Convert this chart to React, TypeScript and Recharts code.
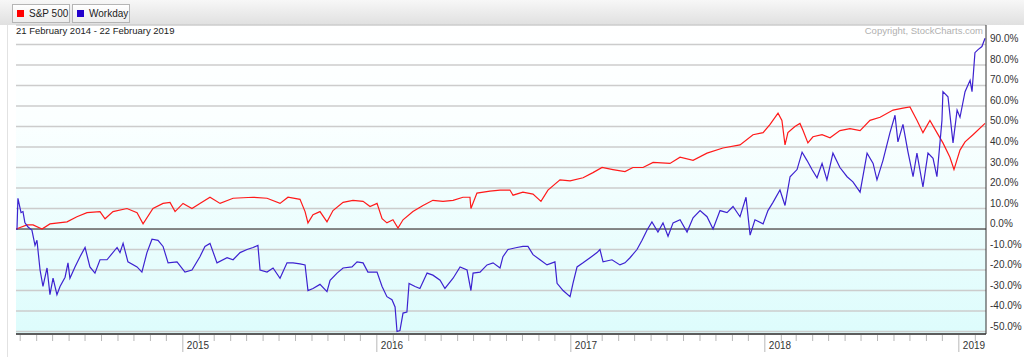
import React from "react";
import {
  LineChart,
  Line,
  XAxis,
  YAxis,
  CartesianGrid,
  ReferenceLine,
} from "recharts";

// decimal years (21 Feb 2014 .. 22 Feb 2019), % change since start
const spDates = [
  2014.14, 2014.197, 2014.228, 2014.274, 2014.315, 2014.403, 2014.454, 2014.506, 2014.573, 2014.599,
  2014.64, 2014.712, 2014.764, 2014.795, 2014.846, 2014.898, 2014.934, 2014.96, 2015.001, 2015.047,
  2015.088, 2015.14, 2015.192, 2015.259, 2015.362, 2015.434, 2015.501, 2015.542, 2015.604, 2015.63,
  2015.645, 2015.671, 2015.707, 2015.743, 2015.774, 2015.826, 2015.877, 2015.929, 2015.965, 2016.001,
  2016.027, 2016.052, 2016.083, 2016.109, 2016.135, 2016.186, 2016.238, 2016.289, 2016.341, 2016.393,
  2016.444, 2016.48, 2016.485, 2016.516, 2016.583, 2016.635, 2016.686, 2016.702, 2016.753, 2016.805,
  2016.846, 2016.882, 2016.944, 2016.996, 2017.063, 2017.114, 2017.161, 2017.217, 2017.279, 2017.32,
  2017.372, 2017.424, 2017.511, 2017.563, 2017.63, 2017.702, 2017.784, 2017.872, 2017.939, 2017.991,
  2018.027, 2018.068, 2018.088, 2018.104, 2018.119, 2018.155, 2018.181, 2018.197, 2018.222, 2018.248,
  2018.295, 2018.336, 2018.387, 2018.439, 2018.491, 2018.542, 2018.594, 2018.661, 2018.712, 2018.748,
  2018.784, 2018.815, 2018.851, 2018.887, 2018.918, 2018.954, 2018.975, 2019.006, 2019.032, 2019.073,
  2019.135,
];
const spValues = [
  0, 2, 2, 0, 2.5, 3.5, 6, 8, 8.5, 5,
  8.5, 10, 8, 2.5, 10, 12.5, 13, 8.5, 12.5, 10,
  12.5, 15.5, 12.5, 15, 15.5, 15, 12.5, 15.5, 14.5, 8.5,
  3, 7, 8.5, 3.5, 9, 13, 14, 13.5, 11, 12.5,
  5, 3, 4.5, 0.5, 4.5, 8.5, 11.5, 14, 13.5, 14,
  15.5, 15.5, 10, 17.5, 18.5, 19, 19, 16.5, 18, 17,
  13.5, 19, 24, 23.5, 25, 27.5, 30, 29, 28, 30,
  30, 32.5, 32, 35, 33.5, 37, 39.5, 41, 46, 47,
  51, 56.5, 53, 41, 47, 50, 51.5, 48, 42, 45,
  46, 44.5, 48, 49, 48, 53, 54.5, 58, 59, 59.5,
  53, 47, 53, 47, 42, 35, 29, 38.5, 42.5, 46,
  51.5,
];

const wdayDates = [
  2014.145, 2014.15, 2014.166, 2014.176, 2014.186, 2014.202, 2014.222, 2014.238, 2014.248, 2014.264,
  2014.279, 2014.3, 2014.315, 2014.331, 2014.351, 2014.367, 2014.393, 2014.408, 2014.418, 2014.444,
  2014.47, 2014.496, 2014.521, 2014.547, 2014.573, 2014.609, 2014.661, 2014.676, 2014.692, 2014.717,
  2014.764, 2014.789, 2014.815, 2014.841, 2014.872, 2014.898, 2014.924, 2014.97, 2015.011, 2015.047,
  2015.088, 2015.114, 2015.14, 2015.176, 2015.228, 2015.259, 2015.295, 2015.331, 2015.362, 2015.387,
  2015.398, 2015.434, 2015.465, 2015.501, 2015.537, 2015.568, 2015.604, 2015.63, 2015.645, 2015.671,
  2015.707, 2015.743, 2015.759, 2015.795, 2015.826, 2015.872, 2015.898, 2015.929, 2015.954, 2016.001,
  2016.027, 2016.052, 2016.078, 2016.094, 2016.104, 2016.119, 2016.135, 2016.155, 2016.166, 2016.197,
  2016.222, 2016.259, 2016.289, 2016.326, 2016.351, 2016.393, 2016.429, 2016.465, 2016.485, 2016.496,
  2016.532, 2016.568, 2016.599, 2016.635, 2016.65, 2016.676, 2016.722, 2016.753, 2016.779, 2016.805,
  2016.841, 2016.877, 2016.918, 2016.929, 2016.96, 2016.996, 2017.011, 2017.032, 2017.063, 2017.099,
  2017.135, 2017.15, 2017.166, 2017.212, 2017.253, 2017.279, 2017.305, 2017.341, 2017.367, 2017.393,
  2017.418, 2017.449, 2017.475, 2017.501, 2017.527, 2017.563, 2017.599, 2017.63, 2017.666, 2017.702,
  2017.733, 2017.769, 2017.805, 2017.836, 2017.872, 2017.903, 2017.924, 2017.949, 2017.991, 2018.016,
  2018.042, 2018.078, 2018.104, 2018.13, 2018.166, 2018.192, 2018.217, 2018.243, 2018.269, 2018.295,
  2018.32, 2018.351, 2018.387, 2018.424, 2018.454, 2018.491, 2018.527, 2018.558, 2018.578, 2018.609,
  2018.645, 2018.671, 2018.686, 2018.712, 2018.738, 2018.764, 2018.784, 2018.815, 2018.841, 2018.867,
  2018.887, 2018.913, 2018.918, 2018.944, 2018.97, 2018.991, 2019.006, 2019.032, 2019.058, 2019.068,
  2019.083, 2019.099, 2019.119, 2019.135,
];
const wdayValues = [
  -0.5, 15, 8, 8.5, 3, 1, -0.5, -8, -5.5, -20,
  -28, -19, -32, -24, -32, -28, -23.5, -16.5, -24, -18.5,
  -13.5, -9, -18.5, -21.5, -15, -15, -9, -11.5, -7, -16,
  -18.5, -21, -11.5, -5, -5.5, -8.5, -16.5, -16, -21, -20,
  -13.5, -8.5, -7, -16.5, -14, -15, -11.5, -10, -9, -8,
  -20, -21, -19, -24, -16.5, -16.5, -17, -17.5, -30, -29,
  -27, -30.5, -25, -21.5, -19, -18.5, -16, -16.5, -21, -21,
  -28, -33, -34.5, -38, -50, -49.5, -41, -40.5, -26.5, -28,
  -29, -21.5, -22.5, -25, -29, -24, -18.5, -20, -30, -21.5,
  -21, -17.5, -16.5, -19, -13.5, -10, -9, -8.5, -8.5, -12.5,
  -15, -17.5, -16, -26.5, -30, -33, -26.5, -18.5, -16.5, -14,
  -11.5, -10, -16, -15, -17.5, -16.5, -14, -10, -5.5, -0.5,
  3.5, -1.5, 3, -3.5, 3, 4.5, -1.5, 5.5, 9, 6,
  0, 9, 8, 11, 6, 15.5, -3, 4.5, 2.5, 9,
  13, 19, 11.5, 25.5, 29, 37.5, 33.5, 29, 25, 32,
  24, 37, 30, 25.5, 23, 18, 37, 32, 24, 33.5,
  47, 55.5, 42.5, 51, 37.5, 25.5, 37, 20.5, 37, 34.5,
  25.5, 53, 67, 64.5, 42, 58, 54.5, 67, 72.5, 67,
  86, 87.5, 89, 93,
];

const yTicks = [-50, -40, -30, -20, -10, 0, 10, 20, 30, 40, 50, 60, 70, 80, 90];
const legendItems = [
  { name: "S&P 500", color: "#ff0000" },
  { name: "Workday", color: "#2200cc" },
];
const dateRange = "21 February 2014 - 22 February 2019";
const copyright = "Copyright, StockCharts.com";

const X_START = 2014.14;
const X_END = 2019.14;
const FONT = "'Liberation Sans', Arial, sans-serif";

const toDecimalYear = (y: number, m: number, d: number) =>
  y + (Date.UTC(y, m, d) - Date.UTC(y, 0, 1)) / (365 * 86400000);

const monthTicks: number[] = [];
for (let y = 2014; y <= 2019; y++) {
  for (let m = 0; m < 12; m++) {
    const t = toDecimalYear(y, m, 1);
    if (t > X_START && t < X_END) monthTicks.push(t);
  }
}

const spData = spDates.map((t, i) => ({ t, v: spValues[i] }));
const wdayData = wdayDates.map((t, i) => ({ t, v: wdayValues[i] }));

const XTick = (props: any) => {
  const { x, y, payload } = props;
  const v = payload.value;
  const isYear = Math.abs(v - Math.round(v)) < 0.002;
  return (
    <g>
      <line x1={x} x2={x} y1={y + 1} y2={y + (isYear ? 18 : 7)} stroke="#b8b8b8" />
      {isYear && (
        <text x={x + 4} y={y + 15} fontSize={10} fill="#333" fontFamily={FONT}>
          {Math.round(v)}
        </text>
      )}
    </g>
  );
};

const YTick = (props: any) => {
  const { x, y, payload } = props;
  return (
    <text x={x + 4} y={y - 2} fontSize={10} fill="#333" fontFamily={FONT}>
      {payload.value.toFixed(1) + "%"}
    </text>
  );
};

const App = () => {
  return (
    <div style={{ position: "absolute", left: 0, top: 0, width: 1024, height: 357, background: "#fff" }}>
      {/* header band with legend */}
      <div
        style={{
          position: "absolute",
          left: 0,
          top: 0,
          width: 1024,
          height: 25,
          background: "linear-gradient(#f7f7f7, #e0e0e0)",
        }}
      />
      {legendItems.map((item, i) => (
        <div
          key={item.name}
          style={{
            position: "absolute",
            left: i === 0 ? 12 : 72,
            top: 4,
            width: 56,
            height: 17,
            border: "1px solid #b5b5b5",
            background: "linear-gradient(#ffffff, #ececec)",
            fontFamily: FONT,
            fontSize: 10,
            color: "#222",
            whiteSpace: "nowrap",
          }}
        >
          <span
            style={{
              position: "absolute",
              left: 4,
              top: 5,
              width: 7,
              height: 7,
              background: item.color,
            }}
          />
          <span style={{ position: "absolute", left: 16, top: 3 }}>{item.name}</span>
        </div>
      ))}
      <div style={{ position: "absolute", left: 7, top: 25, width: 1, height: 332, background: "#e2e2e2" }} />

      <LineChart width={1024} height={357} margin={{ top: 25, right: 0, bottom: 0, left: 16 }}>
        <defs>
          <linearGradient id="plotBg" x1="0" y1="0" x2="0" y2="1">
            <stop offset="0%" stopColor="#ffffff" />
            <stop offset="30%" stopColor="#fbffff" />
            <stop offset="100%" stopColor="#ddfcfc" />
          </linearGradient>
        </defs>
        <CartesianGrid
          vertical={false}
          stroke="#cccccc"
          strokeWidth={1.5}
          fill="url(#plotBg)"
          fillOpacity={1}
        />
        <XAxis
          dataKey="t"
          type="number"
          domain={[X_START, X_END]}
          ticks={monthTicks}
          interval={0}
          tick={XTick}
          tickLine={false}
          tickSize={0}
          tickMargin={0}
          axisLine={{ stroke: "#333", strokeWidth: 1.5 }}
          height={23}
          allowDataOverflow
        />
        <YAxis
          orientation="right"
          type="number"
          domain={[-51.2, 99.5]}
          ticks={yTicks}
          interval={0}
          tick={YTick}
          tickLine={false}
          tickSize={0}
          tickMargin={0}
          axisLine={{ stroke: "#333" }}
          width={38}
          allowDataOverflow
        />
        <ReferenceLine y={0} stroke="#333" strokeWidth={1} />
        <Line
          data={spData}
          dataKey="v"
          type="linear"
          stroke="#ff1a1a"
          strokeWidth={1.2}
          dot={false}
          isAnimationActive={false}
        />
        <Line
          data={wdayData}
          dataKey="v"
          type="linear"
          stroke="#3d22d0"
          strokeWidth={1.2}
          dot={false}
          isAnimationActive={false}
        />
      </LineChart>

      <div
        style={{
          position: "absolute",
          left: 16,
          top: 25,
          fontFamily: FONT,
          fontSize: 9.5,
          color: "#222",
          whiteSpace: "nowrap",
        }}
      >
        {dateRange}
      </div>
      <div
        style={{
          position: "absolute",
          right: 1024 - 983,
          top: 25,
          fontFamily: FONT,
          fontSize: 9.5,
          color: "#b0b0b0",
          whiteSpace: "nowrap",
        }}
      >
        {copyright}
      </div>
    </div>
  );
};

export default App;
